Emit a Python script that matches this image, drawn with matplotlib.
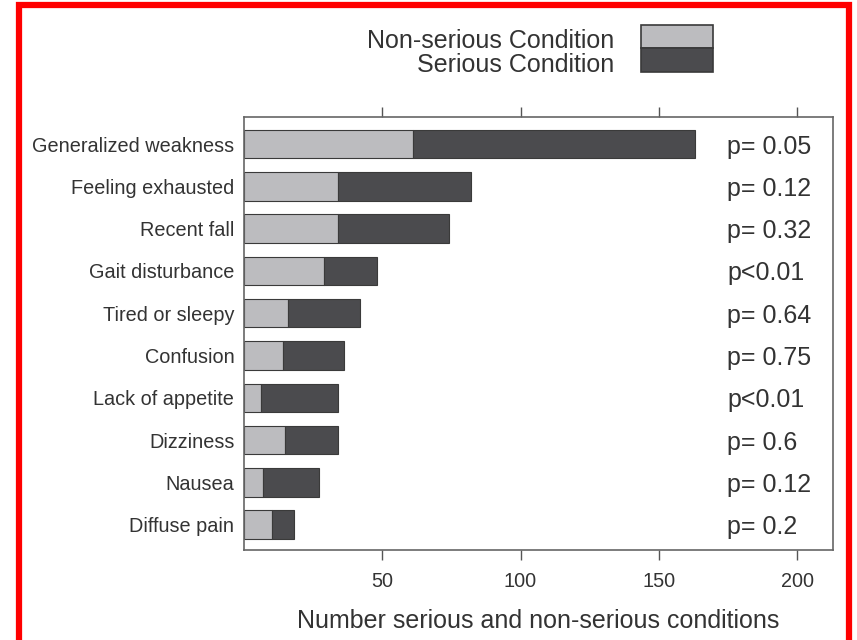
import matplotlib
matplotlib.use("Agg")
import matplotlib.pyplot as plt
from matplotlib.patches import Rectangle
import matplotlib.transforms as mtransforms

plt.rcParams['font.family'] = ['Liberation Sans', 'DejaVu Sans']

symptoms = ["Generalized weakness", "Feeling exhausted", "Recent fall",
            "Gait disturbance", "Tired or sleepy", "Confusion",
            "Lack of appetite", "Dizziness", "Nausea", "Diffuse pain"]
non_serious = [61, 34, 34, 29, 16, 14, 6, 15, 7, 10]
serious = [102, 48, 40, 19, 26, 22, 28, 19, 20, 8]
p_values = ["p= 0.05", "p= 0.12", "p= 0.32", "p<0.01", "p= 0.64",
            "p= 0.75", "p<0.01", "p= 0.6", "p= 0.12", "p= 0.2"]
x_ticks = [50, 100, 150, 200]

light = "#bcbcbf"
dark = "#4b4b4e"
edge = "#3a3a3a"
text_col = "#333333"

W, H = 857, 640
fig = plt.figure(figsize=(W / 100, H / 100), dpi=100)
ax = fig.add_axes([244 / W, 1 - 550 / H, (833 - 244) / W, (550 - 117) / H])

pos = list(range(len(symptoms)))
bar_h = 0.67
ax.barh(pos, non_serious, height=bar_h, color=light, edgecolor=edge, linewidth=0.8)
ax.barh(pos, serious, left=non_serious, height=bar_h, color=dark,
        edgecolor=edge, linewidth=0.8)

ax.set_xlim(0, 213)
ax.set_ylim(9.6, -0.64)
ax.set_yticks(pos)
ax.set_yticklabels(symptoms, fontsize=14.3, color=text_col)
ax.set_xticks(x_ticks)
ax.set_xticklabels([str(t) for t in x_ticks], fontsize=14.3, color=text_col)
ax.tick_params(axis='y', length=0, pad=7)
ax.tick_params(axis='x', which='both', direction='out', length=7, width=1,
               color="#555555", top=True, pad=9)
for s in ax.spines.values():
    s.set_color("#666666")
    s.set_linewidth(1.2)

ax.set_xlabel("Number serious and non-serious conditions", fontsize=18,
              color=text_col, labelpad=13)

trans = mtransforms.blended_transform_factory(ax.transAxes, ax.transData)
for y, p in zip(pos, p_values):
    ax.text(0.82, y, p, transform=trans, ha='left', va='center_baseline',
            fontsize=18, color=text_col)

# legend drawn in figure coordinates
fig.text(614 / W, 1 - 39 / H, "Non-serious Condition", ha='right',
         va='center_baseline', fontsize=18, color=text_col)
fig.text(614 / W, 1 - 63 / H, "Serious Condition", ha='right',
         va='center_baseline', fontsize=18, color=text_col)
fig.patches.append(Rectangle((641 / W, 1 - 48 / H), 72 / W, 23 / H,
                             transform=fig.transFigure, facecolor=light,
                             edgecolor=edge, linewidth=1.2))
fig.patches.append(Rectangle((641 / W, 1 - 72 / H), 72 / W, 24 / H,
                             transform=fig.transFigure, facecolor=dark,
                             edgecolor=edge, linewidth=1.2))

# red outer frame
fig.patches.append(Rectangle((19 / W, -0.05), (849 - 19) / W, 1 - 5 / H + 0.05,
                             transform=fig.transFigure, facecolor='none',
                             edgecolor='#ff0000', linewidth=4.5))

fig.savefig("out.png", dpi=100)
